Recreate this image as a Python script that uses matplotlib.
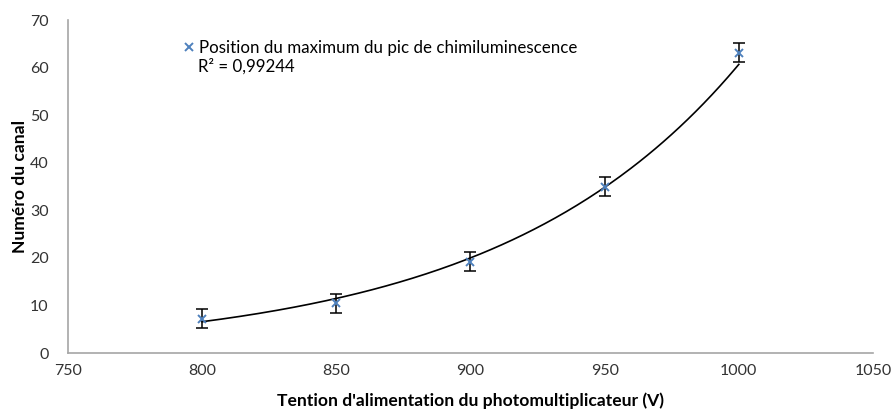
import numpy as np
from matplotlib import pyplot as plt

plt.rcParams['font.family'] = ['Lato', 'DejaVu Sans']

# donnees
tension = [800, 850, 900, 950, 1000]
canal = [7.2, 10.5, 19.2, 35.0, 63.2]
erreur = [2.0, 2.0, 2.0, 2.0, 2.0]
x_ticks = [750, 800, 850, 900, 950, 1000, 1050]
y_ticks = [0, 10, 20, 30, 40, 50, 60, 70]

fig = plt.figure(figsize=(8.94, 4.12), dpi=100)
ax = fig.add_axes([0.076, 0.143, 0.9005, 0.808])

# courbe de tendance exponentielle
b, lna = np.polyfit(tension, np.log(canal), 1)
xf = np.linspace(tension[0], tension[-1], 200)
ax.plot(xf, np.exp(lna) * np.exp(b * xf), color='black', linewidth=1.2, zorder=2)

ax.errorbar(tension, canal, yerr=erreur, fmt='none', ecolor='black',
            elinewidth=1.1, capsize=4, capthick=1.1, zorder=3)
ax.plot(tension, canal, linestyle='none', marker='x', color='#4F81BD',
        markersize=6, markeredgewidth=1.4, zorder=4,
        label='Position du maximum du pic de chimiluminescence')

leg = ax.legend(loc='upper left', bbox_to_anchor=(0.135, 0.965), frameon=False,
                fontsize=12.2, handlelength=0.5, handletextpad=0.3, borderpad=0)
ax.text(0.162, 0.86, 'R² = 0,99244', transform=ax.transAxes, fontsize=12.2,
        color='black', va='center')

ax.set_xlim(750, 1050)
ax.set_ylim(0, 70)
ax.set_xticks(x_ticks)
ax.set_yticks(y_ticks)
ax.tick_params(length=0, labelsize=11.5, colors='#333333', pad=8)
ax.tick_params(axis='y', pad=14)
for s in ['top', 'right']:
    ax.spines[s].set_visible(False)
for s in ['left', 'bottom']:
    ax.spines[s].set_color('#A6A6A6')
    ax.spines[s].set_linewidth(1.2)

ax.set_xlabel("Tention d'alimentation du photomultiplicateur (V)", fontsize=12.6,
              fontweight='bold', labelpad=10)
ax.set_ylabel('Numéro du canal', fontsize=12.6, fontweight='bold', labelpad=1)

plt.savefig('out.png', dpi=100)
